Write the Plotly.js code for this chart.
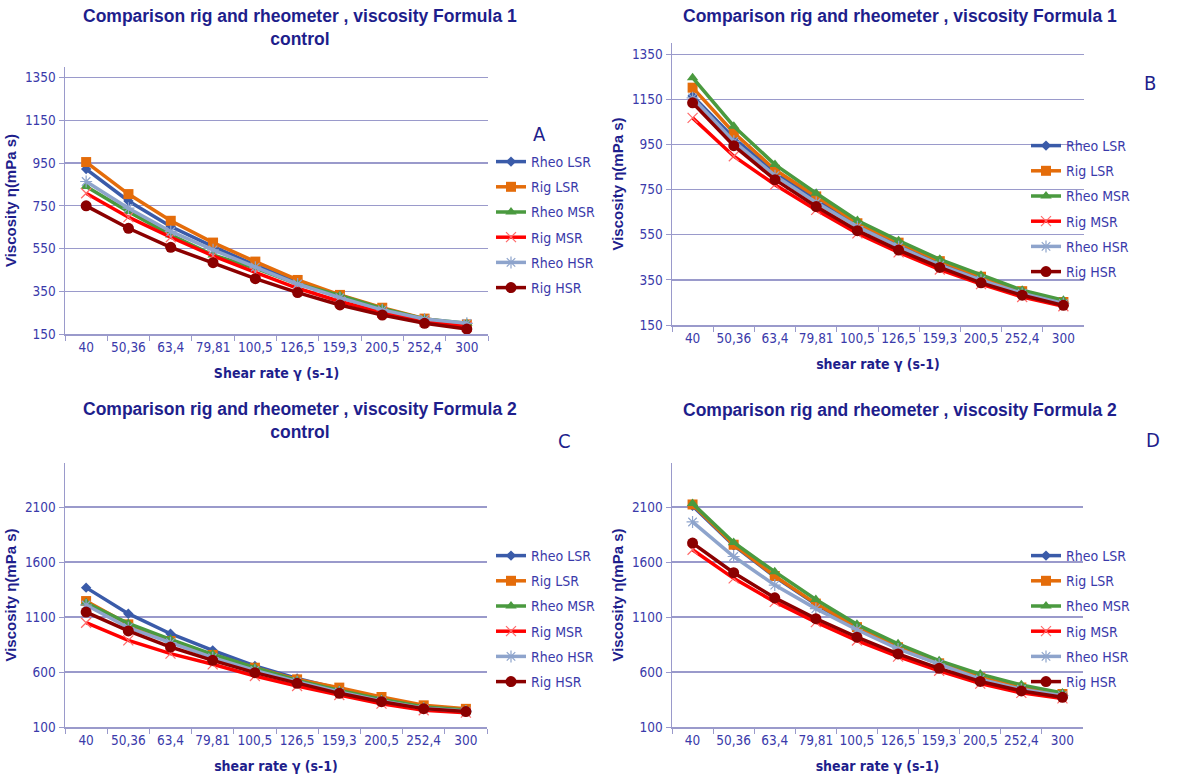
<!DOCTYPE html>
<html>
<head>
<meta charset="utf-8">
<script src="https://cdn.plot.ly/plotly-3.0.1.min.js"></script>
<style>html,body{margin:0;padding:0;background:#fff;}#chart{width:1200px;height:775px;}</style>
</head>
<body>
<div id="chart"></div>
<script>
// Shear rate categories
const shearRates = ["40", "50,36", "63,4", "79,81", "100,5", "126,5", "159,3", "200,5", "252,4", "300"];
const seriesNames = ["Rheo LSR", "Rig LSR", "Rheo MSR", "Rig MSR", "Rheo HSR", "Rig HSR"];

// Chart A: Formula 1 control
const A_rheoLSR = [922, 773, 653, 559, 473, 391, 322, 263, 216, 192];
const A_rigLSR  = [955, 805, 680, 578, 489, 403, 333, 273, 222, 195];
const A_rheoMSR = [841, 723, 614, 520, 458, 384, 330, 270, 220, 200];
const A_rigMSR  = [809, 697, 603, 516, 439, 364, 302, 250, 208, 184];
const A_rheoHSR = [864, 739, 630, 544, 463, 384, 320, 263, 220, 200];
const A_rigHSR  = [750, 645, 556, 484, 409, 344, 286, 239, 200, 173];

// Chart B: Formula 1
const B_rheoLSR = [1165, 979, 824, 705, 594, 505, 423, 356, 294, 248];
const B_rigLSR  = [1202, 1002, 838, 720, 601, 515, 433, 364, 300, 252];
const B_rheoMSR = [1246, 1031, 861, 734, 613, 524, 441, 371, 304, 260];
const B_rigMSR  = [1068, 898, 772, 660, 556, 472, 396, 331, 274, 233];
const B_rheoHSR = [1157, 964, 812, 693, 586, 497, 415, 349, 290, 245];
const B_rigHSR  = [1135, 945, 794, 675, 568, 482, 405, 337, 282, 237];

// Chart C: Formula 2 control
const C_rheoLSR = [1367, 1130, 948, 797, 655, 542, 448, 352, 282, 254];
const C_rigLSR  = [1245, 1033, 882, 755, 639, 533, 458, 373, 297, 265];
const C_rheoMSR = [1230, 1042, 897, 761, 639, 524, 433, 352, 282, 255];
const C_rigMSR  = [1048, 888, 767, 670, 564, 473, 391, 312, 252, 230];
const C_rheoHSR = [1209, 1003, 867, 730, 615, 512, 418, 336, 270, 245];
const C_rigHSR  = [1145, 973, 827, 706, 594, 497, 406, 330, 267, 240];

// Chart D: Formula 2
const D_rheoLSR = [2110, 1750, 1465, 1215, 1000, 820, 675, 548, 455, 398];
const D_rigLSR  = [2123, 1757, 1473, 1222, 1008, 825, 679, 550, 459, 400];
const D_rheoMSR = [2132, 1778, 1512, 1259, 1033, 856, 703, 581, 483, 410];
const D_rigMSR  = [1711, 1451, 1237, 1054, 886, 740, 611, 495, 410, 360];
const D_rheoHSR = [1964, 1650, 1390, 1176, 984, 810, 672, 535, 443, 385];
const D_rigHSR  = [1772, 1503, 1274, 1085, 917, 764, 633, 514, 428, 370];

// Axis ticks
const ticksF1 = [150, 350, 550, 750, 950, 1150, 1350];
const ticksF2 = [100, 600, 1100, 1600, 2100];

const styles = [
  {color: "#3A5BA9", symbol: "diamond", msize: 8, mline: 0},
  {color: "#E46C0A", symbol: "square", msize: 10, mline: 0},
  {color: "#4A9A3F", symbol: "triangle-up", msize: 10, mline: 0},
  {color: "#FF0000", symbol: "x-thin-open", msize: 10, mline: 1.2, mcolor: "#FF6A6A"},
  {color: "#8EA4CC", symbol: "asterisk-open", msize: 10, mline: 1.2, mcolor: "#8EA4CC"},
  {color: "#8B0000", symbol: "circle", msize: 11, mline: 0}
];

const navy = "#1E1E8C";
const tickBlue = "#3A3AAA";
const narrow = "'DejaVu Sans Condensed', 'Liberation Sans Narrow', 'Liberation Sans', sans-serif";

const chartData = [
  {key: "A", xa: "x", ya: "y", leg: "legend", series: [A_rheoLSR, A_rigLSR, A_rheoMSR, A_rigMSR, A_rheoHSR, A_rigHSR]},
  {key: "B", xa: "x2", ya: "y2", leg: "legend2", series: [B_rheoLSR, B_rigLSR, B_rheoMSR, B_rigMSR, B_rheoHSR, B_rigHSR]},
  {key: "C", xa: "x3", ya: "y3", leg: "legend3", series: [C_rheoLSR, C_rigLSR, C_rheoMSR, C_rigMSR, C_rheoHSR, C_rigHSR]},
  {key: "D", xa: "x4", ya: "y4", leg: "legend4", series: [D_rheoLSR, D_rigLSR, D_rheoMSR, D_rigMSR, D_rheoHSR, D_rigHSR]}
];

const traces = [];
chartData.forEach(c => {
  c.series.forEach((vals, i) => {
    const s = styles[i];
    traces.push({
      type: "scatter", mode: "lines+markers",
      x: shearRates, y: vals, name: seriesNames[i],
      xaxis: c.xa, yaxis: c.ya, legend: c.leg,
      legendgroup: c.key + i,
      line: {color: s.color, width: 3.5},
      marker: {symbol: s.symbol, size: s.msize, color: s.mcolor || s.color,
               line: {width: s.mline, color: s.mcolor || s.color}}
    });
  });
});

function xax(domain, anchor, title) {
  return {
    domain: domain, anchor: anchor, type: "category", range: [-0.5, 9.5],
    showline: true, linecolor: "#9A9ACB", linewidth: 1.5,
    ticks: "outside", tickson: "boundaries", ticklen: 5, tickcolor: "#9A9ACB",
    showgrid: false, zeroline: false, tickangle: 0,
    tickfont: {family: narrow, size: 13.5, color: tickBlue},
    title: {text: title, font: {family: narrow, size: 14, color: navy, weight: "bold"}, standoff: 14}
  };
}
function yax(domain, anchor, range, tv) {
  return {
    domain: domain, anchor: anchor, range: range, tickvals: tv, ticktext: tv.map(String),
    showline: true, linecolor: "#9A9ACB", linewidth: 1.5,
    ticks: "outside", ticklen: 5, tickcolor: "#9A9ACB",
    showgrid: true, gridcolor: "#9A9ACB", gridwidth: 1.3, zeroline: false,
    tickfont: {family: narrow, size: 13.5, color: tickBlue},
    title: {text: "Viscosity η(mPa s)", font: {family: "'Liberation Sans', Arial, sans-serif", size: 15, color: navy, weight: "bold"}, standoff: 4}
  };
}

function leg(x, y) {
  return {x: x, y: y, xanchor: "left", yanchor: "top", bgcolor: "rgba(0,0,0,0)",
          font: {family: narrow, size: 14, color: tickBlue}, tracegroupgap: 4,
          itemwidth: 30};
}

const titleFont = {family: "'Liberation Sans', Arial, sans-serif", size: 17.5, color: navy, weight: "bold"};

const layout = {
  width: 1200, height: 775, margin: {l: 0, r: 0, t: 0, b: 0},
  paper_bgcolor: "#fff", plot_bgcolor: "#fff",
  showlegend: true,
  xaxis: xax([65/1200, 488/1200], "y", "Shear rate γ (s-1)"),
  yaxis: yax([1-334/775, 1-67/775], "x", [150, 1400], ticksF1),
  xaxis2: xax([672/1200, 1084/1200], "y2", "shear rate γ (s-1)"),
  yaxis2: yax([1-325/775, 1-43/775], "x2", [150, 1400], ticksF1),
  xaxis3: xax([65/1200, 487/1200], "y3", "shear rate γ (s-1)"),
  yaxis3: yax([1-727/775, 1-463/775], "x3", [100, 2500], ticksF2),
  xaxis4: xax([672/1200, 1083/1200], "y4", "shear rate γ (s-1)"),
  yaxis4: yax([1-727/775, 1-463/775], "x4", [100, 2500], ticksF2),
  legend: leg(491/1200, 1-146/775),
  legend2: leg(1026/1200, 1-130/775),
  legend3: leg(491/1200, 1-540/775),
  legend4: leg(1026/1200, 1-540/775),
  annotations: [
    {text: "Comparison rig and rheometer , viscosity Formula 1<br>control", x: 300/1200, y: 1-4/775, xref: "paper", yref: "paper", xanchor: "center", yanchor: "top", showarrow: false, font: titleFont},
    {text: "Comparison rig and rheometer , viscosity Formula 1", x: 900/1200, y: 1-4/775, xref: "paper", yref: "paper", xanchor: "center", yanchor: "top", showarrow: false, font: titleFont},
    {text: "Comparison rig and rheometer , viscosity Formula 2<br>control", x: 300/1200, y: 1-397/775, xref: "paper", yref: "paper", xanchor: "center", yanchor: "top", showarrow: false, font: titleFont},
    {text: "Comparison rig and rheometer , viscosity Formula 2", x: 900/1200, y: 1-398/775, xref: "paper", yref: "paper", xanchor: "center", yanchor: "top", showarrow: false, font: titleFont},
    {text: "A", x: 539/1200, y: 1-120/775, xref: "paper", yref: "paper", showarrow: false, font: {family: narrow, size: 20, color: navy}},
    {text: "B", x: 1158/1200, y: 1-69/775, xref: "paper", yref: "paper", showarrow: false, font: {family: narrow, size: 20, color: navy}},
    {text: "C", x: 564/1200, y: 1-441/775, xref: "paper", yref: "paper", showarrow: false, font: {family: narrow, size: 20, color: navy}},
    {text: "D", x: 1162/1200, y: 1-440/775, xref: "paper", yref: "paper", showarrow: false, font: {family: narrow, size: 20, color: navy}}
  ]
};

Plotly.newPlot("chart", traces, layout, {displayModeBar: false, staticPlot: true});
</script>
</body>
</html>
